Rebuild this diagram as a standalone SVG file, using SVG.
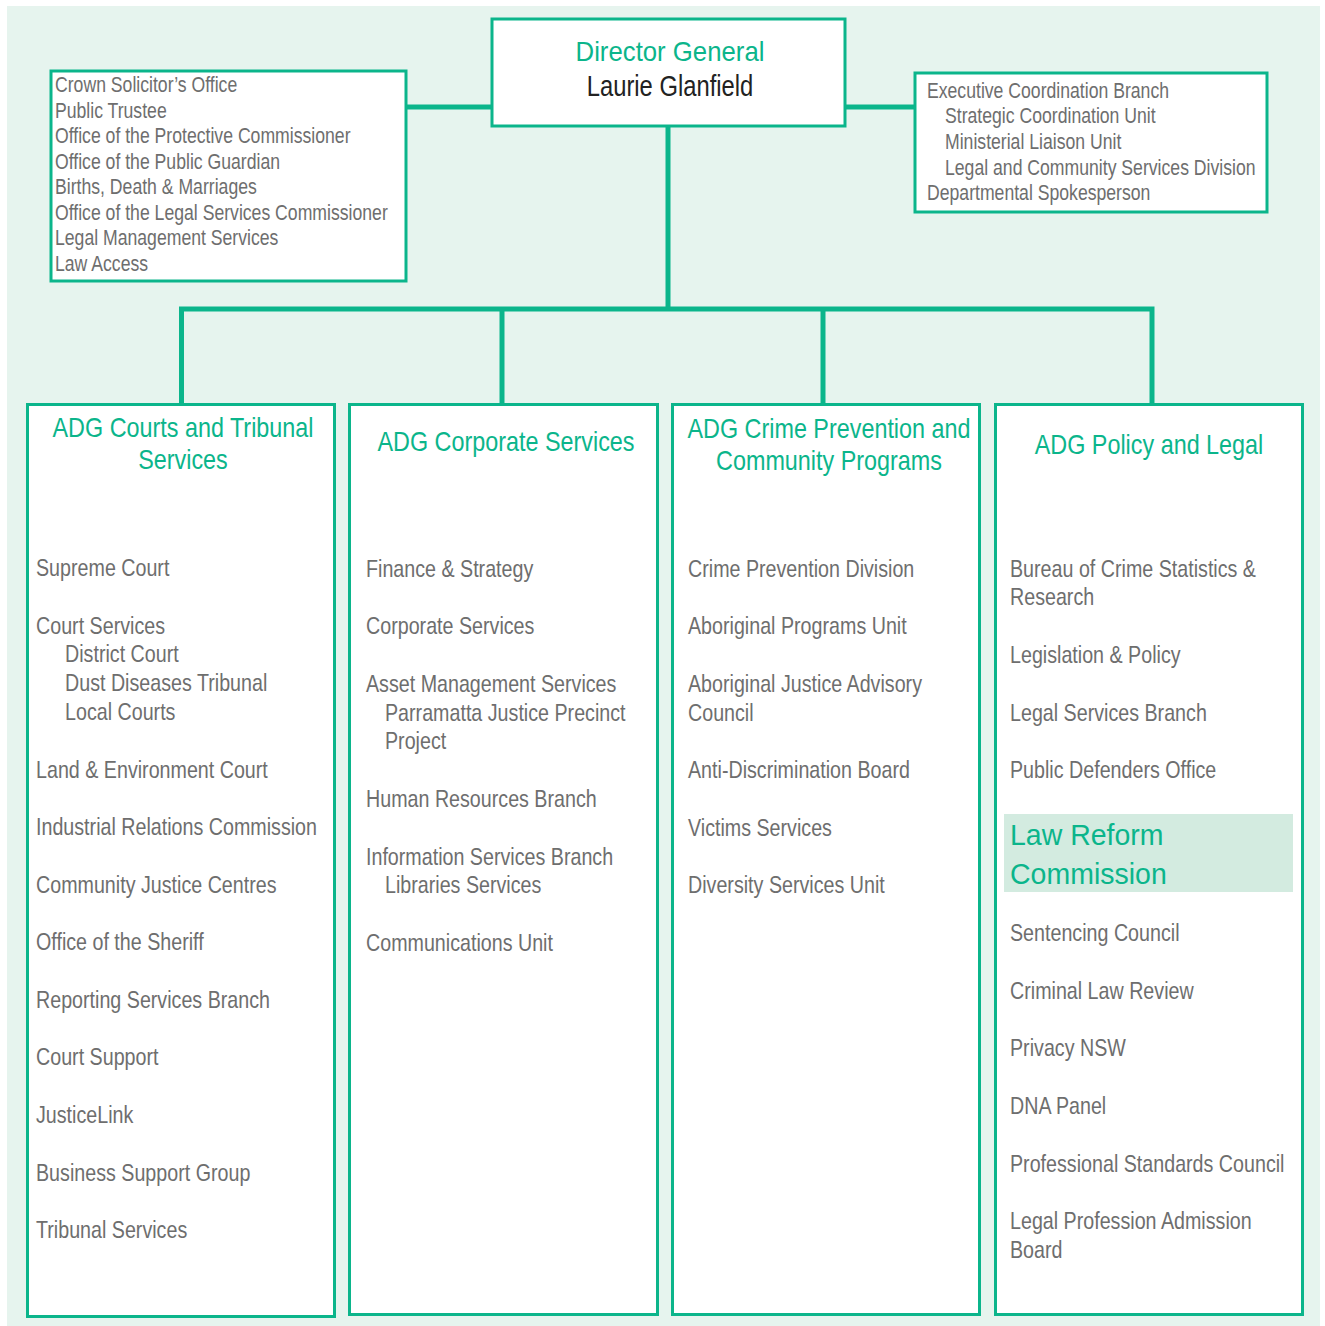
<svg xmlns="http://www.w3.org/2000/svg" width="1325" height="1326" viewBox="0 0 1325 1326">
<style>
text{font-family:"Liberation Sans",Arial,sans-serif}
.box{fill:#fff;stroke:#0bb58b;stroke-width:3}
.con{stroke:#0bb58b;stroke-width:5;fill:none}
.it{font-size:24px;fill:#6e6e6e}
.sm{font-size:21.5px;fill:#6e6e6e}
.hd{font-size:28.5px;fill:#0bb58b;text-anchor:middle}
.lr{font-size:30px;fill:#0bb58b}
</style>
<rect x="7" y="6" width="1313" height="1320" fill="#e6f4ee"/>
<g id="connectors">
<path class="con" d="M406 107H492M845 107H914M668 126V309M181.5 309H1152.5M181.5 306.5V404M502 309V404M823 309V404M1152 306.5V404"/>
</g>
<g id="director">
<rect class="box" x="492" y="19" width="353" height="107"/>
<text transform="translate(670 61) scale(.92 1)" text-anchor="middle" style="font-size:28px;fill:#0bb58b">Director General</text>
<text transform="translate(670 96) scale(.82 1)" text-anchor="middle" style="font-size:29px;fill:#222">Laurie Glanfield</text>
</g>
<g id="left-box">
<rect class="box" x="51" y="71" width="355" height="210"/>
<text class="sm" transform="translate(55 92) scale(.82 1)">Crown Solicitor’s Office</text>
<text class="sm" transform="translate(55 118) scale(.82 1)">Public Trustee</text>
<text class="sm" transform="translate(55 143) scale(.82 1)">Office of the Protective Commissioner</text>
<text class="sm" transform="translate(55 169) scale(.82 1)">Office of the Public Guardian</text>
<text class="sm" transform="translate(55 194) scale(.82 1)">Births, Death &amp; Marriages</text>
<text class="sm" transform="translate(55 220) scale(.82 1)">Office of the Legal Services Commissioner</text>
<text class="sm" transform="translate(55 245) scale(.82 1)">Legal Management Services</text>
<text class="sm" transform="translate(55 271) scale(.82 1)">Law Access</text>
</g>
<g id="right-box">
<rect class="box" x="915" y="73" width="352" height="139"/>
<text class="sm" transform="translate(927 98) scale(.82 1)">Executive Coordination Branch</text>
<text class="sm" transform="translate(945 123) scale(.82 1)">Strategic Coordination Unit</text>
<text class="sm" transform="translate(945 149) scale(.82 1)">Ministerial Liaison Unit</text>
<text class="sm" transform="translate(945 175) scale(.82 1)">Legal and Community Services Division</text>
<text class="sm" transform="translate(927 200) scale(.82 1)">Departmental Spokesperson</text>
</g>
<g id="col-courts">
<rect class="box" x="27.5" y="404.5" width="307" height="912"/>
<text class="hd" transform="translate(183 437) scale(.82 1)">ADG Courts and Tribunal</text>
<text class="hd" transform="translate(183 469) scale(.82 1)">Services</text>
<text class="it" transform="translate(36 576) scale(.82 1)">Supreme Court</text>
<text class="it" transform="translate(36 634) scale(.82 1)">Court Services</text>
<text class="it" transform="translate(65 662) scale(.82 1)">District Court</text>
<text class="it" transform="translate(65 691) scale(.82 1)">Dust Diseases Tribunal</text>
<text class="it" transform="translate(65 720) scale(.82 1)">Local Courts</text>
<text class="it" transform="translate(36 778) scale(.82 1)">Land &amp; Environment Court</text>
<text class="it" transform="translate(36 835) scale(.82 1)">Industrial Relations Commission</text>
<text class="it" transform="translate(36 893) scale(.82 1)">Community Justice Centres</text>
<text class="it" transform="translate(36 950) scale(.82 1)">Office of the Sheriff</text>
<text class="it" transform="translate(36 1008) scale(.82 1)">Reporting Services Branch</text>
<text class="it" transform="translate(36 1065) scale(.82 1)">Court Support</text>
<text class="it" transform="translate(36 1123) scale(.82 1)">JusticeLink</text>
<text class="it" transform="translate(36 1181) scale(.82 1)">Business Support Group</text>
<text class="it" transform="translate(36 1238) scale(.82 1)">Tribunal Services</text>
</g>
<g id="col-corporate">
<rect class="box" x="349.5" y="404.5" width="308" height="910"/>
<text class="hd" transform="translate(506 451) scale(.82 1)">ADG Corporate Services</text>
<text class="it" transform="translate(366 577) scale(.82 1)">Finance &amp; Strategy</text>
<text class="it" transform="translate(366 634) scale(.82 1)">Corporate Services</text>
<text class="it" transform="translate(366 692) scale(.82 1)">Asset Management Services</text>
<text class="it" transform="translate(385 721) scale(.82 1)">Parramatta Justice Precinct</text>
<text class="it" transform="translate(385 749) scale(.82 1)">Project</text>
<text class="it" transform="translate(366 807) scale(.82 1)">Human Resources Branch</text>
<text class="it" transform="translate(366 865) scale(.82 1)">Information Services Branch</text>
<text class="it" transform="translate(385 893) scale(.82 1)">Libraries Services</text>
<text class="it" transform="translate(366 951) scale(.82 1)">Communications Unit</text>
</g>
<g id="col-crime">
<rect class="box" x="672.5" y="404.5" width="307" height="910"/>
<text class="hd" transform="translate(829 438) scale(.82 1)">ADG Crime Prevention and</text>
<text class="hd" transform="translate(829 470) scale(.82 1)">Community Programs</text>
<text class="it" transform="translate(688 577) scale(.82 1)">Crime Prevention Division</text>
<text class="it" transform="translate(688 634) scale(.82 1)">Aboriginal Programs Unit</text>
<text class="it" transform="translate(688 692) scale(.82 1)">Aboriginal Justice Advisory</text>
<text class="it" transform="translate(688 721) scale(.82 1)">Council</text>
<text class="it" transform="translate(688 778) scale(.82 1)">Anti-Discrimination Board</text>
<text class="it" transform="translate(688 836) scale(.82 1)">Victims Services</text>
<text class="it" transform="translate(688 893) scale(.82 1)">Diversity Services Unit</text>
</g>
<g id="col-policy">
<rect class="box" x="995.5" y="404.5" width="307" height="910"/>
<text class="hd" transform="translate(1149 454) scale(.82 1)">ADG Policy and Legal</text>
<text class="it" transform="translate(1010 577) scale(.82 1)">Bureau of Crime Statistics &amp;</text>
<text class="it" transform="translate(1010 605) scale(.82 1)">Research</text>
<text class="it" transform="translate(1010 663) scale(.82 1)">Legislation &amp; Policy</text>
<text class="it" transform="translate(1010 721) scale(.82 1)">Legal Services Branch</text>
<text class="it" transform="translate(1010 778) scale(.82 1)">Public Defenders Office</text>
<rect x="1004" y="814" width="289" height="78" fill="#d3ebe0"/>
<text class="lr" transform="translate(1010 845) scale(.95 1)">Law Reform</text>
<text class="lr" transform="translate(1010 884) scale(.95 1)">Commission</text>
<text class="it" transform="translate(1010 941) scale(.82 1)">Sentencing Council</text>
<text class="it" transform="translate(1010 999) scale(.82 1)">Criminal Law Review</text>
<text class="it" transform="translate(1010 1056) scale(.82 1)">Privacy NSW</text>
<text class="it" transform="translate(1010 1114) scale(.82 1)">DNA Panel</text>
<text class="it" transform="translate(1010 1172) scale(.82 1)">Professional Standards Council</text>
<text class="it" transform="translate(1010 1229) scale(.82 1)">Legal Profession Admission</text>
<text class="it" transform="translate(1010 1258) scale(.82 1)">Board</text>
</g>
</svg>
